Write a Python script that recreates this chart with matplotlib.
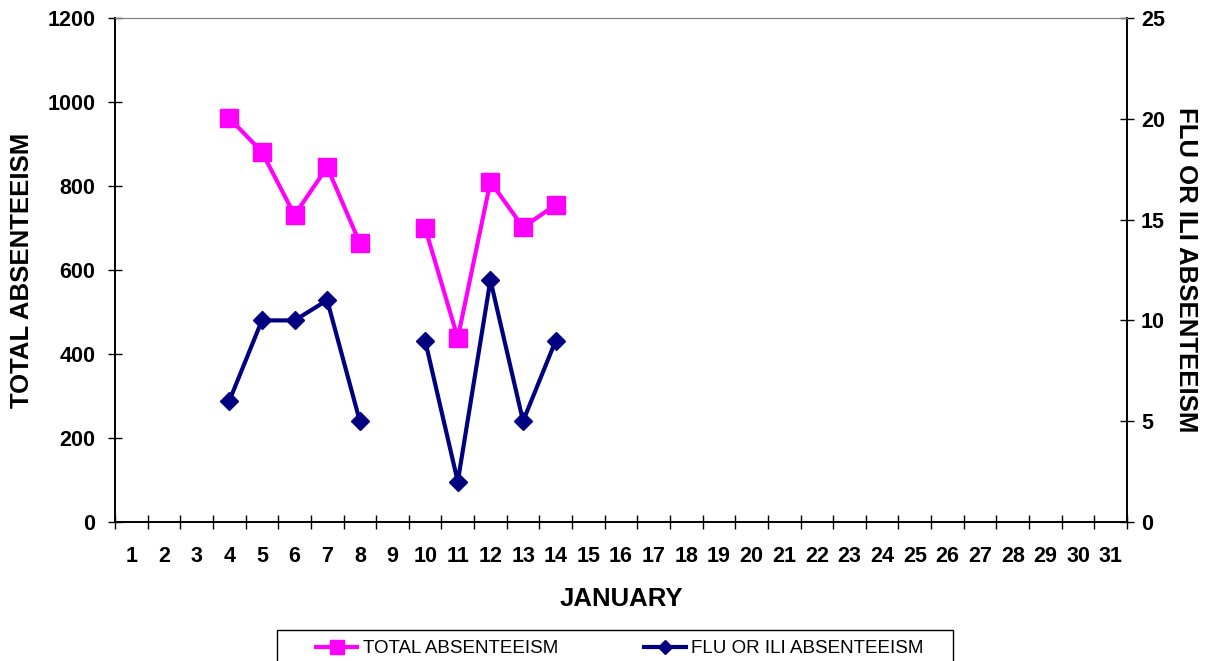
import matplotlib
matplotlib.use("Agg")
import matplotlib.pyplot as plt
import numpy as np
from matplotlib.patches import Rectangle

plt.rcParams['font.family'] = ['Liberation Sans', 'DejaVu Sans']

# data (day 9 has no data)
days = list(range(1, 32))
totalDays = [4, 5, 6, 7, 8, 9, 10, 11, 12, 13, 14]
totalAbs = [962, 881, 731, 845, 664, np.nan, 700, 438, 810, 702, 755]
fluDays = [4, 5, 6, 7, 8, 9, 10, 11, 12, 13, 14]
fluAbs = [6, 10, 10, 11, 5, np.nan, 9, 2, 12, 5, 9]
leftTicks = [0, 200, 400, 600, 800, 1000, 1200]
rightTicks = [0, 5, 10, 15, 20, 25]

pink = '#FF00FF'
navy = '#000080'

fig = plt.figure(figsize=(12.1, 6.61), dpi=100)
ax = fig.add_axes([115/1210, 1-522/661, (1127-115)/1210, (522-18)/661])
ax2 = ax.twinx()

# categories centred in slots between integer boundaries
xt = np.array(totalDays) - 0.5
xf = np.array(fluDays) - 0.5
l1, = ax.plot(xt, totalAbs, color=pink, lw=3, marker='s', ms=12.5, label='TOTAL ABSENTEEISM')
l2, = ax2.plot(xf, fluAbs, color=navy, lw=3, marker='D', ms=9, label='FLU OR ILI ABSENTEEISM')

ax.set_xlim(0, 31)
ax.set_ylim(0, 1200)
ax2.set_ylim(0, 25)
ax.set_yticks(leftTicks)
ax2.set_yticks(rightTicks)
ax.set_xticks(range(0, 32))
ax.set_xticklabels([])
ax.set_xticks(np.array(days) - 0.5, minor=True)
ax.set_xticklabels([str(d) for d in days], minor=True)

ax.tick_params(axis='x', which='major', direction='inout', length=10, width=1, color='black')
ax.tick_params(axis='x', which='minor', length=0, pad=17, labelsize=15.5)
ax.tick_params(axis='y', direction='inout', length=10, width=1, labelsize=15.5, pad=9)
ax2.tick_params(axis='y', direction='inout', length=10, width=1, labelsize=15.5, pad=5)
for lab in ax.get_xticklabels(minor=True) + ax.get_yticklabels() + ax2.get_yticklabels():
    lab.set_fontweight('bold')

for a in (ax, ax2):
    a.spines['top'].set_color('#808080')
    a.spines['left'].set_color('black')
    a.spines['right'].set_color('black')
    a.spines['bottom'].set_color('black')
    a.spines['left'].set_linewidth(1.2)
    a.spines['right'].set_linewidth(1.2)
    a.spines['bottom'].set_linewidth(1.2)

ax.set_ylabel('TOTAL ABSENTEEISM', fontsize=18.5, fontweight='bold', labelpad=10)
ax2.set_ylabel('FLU OR ILI ABSENTEEISM', fontsize=18.5, fontweight='bold', rotation=270, labelpad=24)
ax.set_xlabel('JANUARY', fontsize=18.5, fontweight='bold', labelpad=15)

# legend box runs off the bottom edge like in the original
box = Rectangle((277/1210, 1-680/661), 676/1210, 50/661, transform=fig.transFigure,
                fill=False, edgecolor='black', lw=1)
fig.add_artist(box)
leg = fig.legend(handles=[l1, l2], loc='upper left',
                 bbox_to_anchor=(316/1210, 1-640/661),
                 ncol=2, frameon=False, fontsize=13.5,
                 handlelength=2.2, handletextpad=0.3, borderpad=0, borderaxespad=0,
                 columnspacing=4.6, markerscale=0.75)

fig.savefig('out.png', dpi=100)
